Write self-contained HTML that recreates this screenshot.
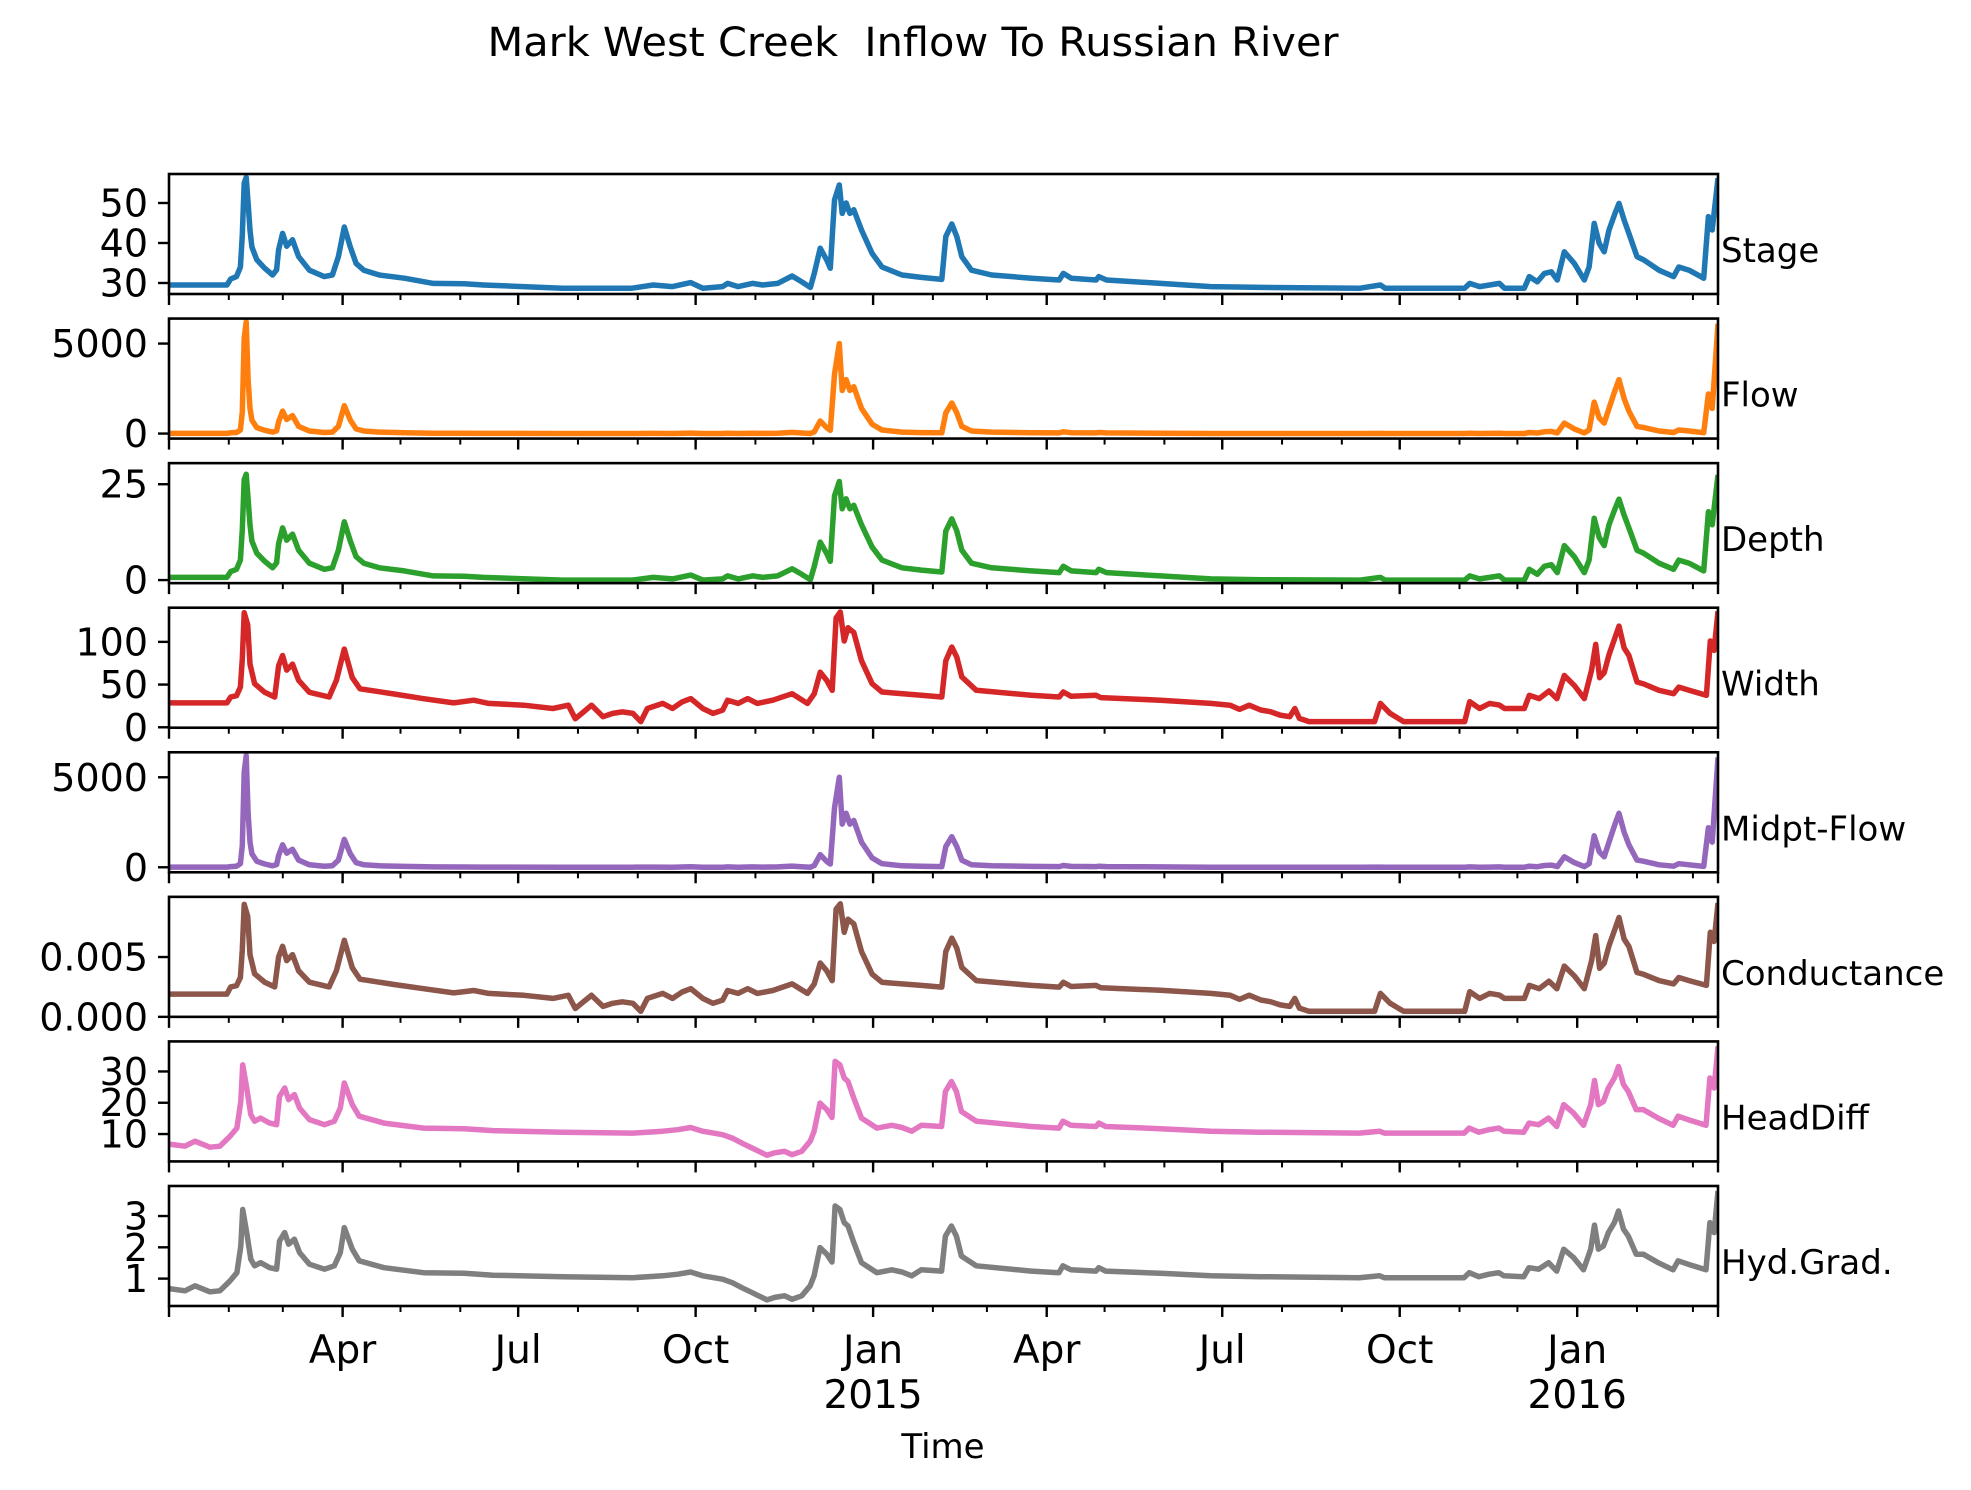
<!DOCTYPE html>
<html><head><meta charset="utf-8"><style>
html,body{margin:0;padding:0;background:#fff}
svg{display:block}
text{font-family:"DejaVu Sans","Liberation Sans",sans-serif;fill:#000}
</style></head><body>
<svg id="chart" width="1971" height="1490" viewBox="0 0 1971 1490" xmlns="http://www.w3.org/2000/svg">
<rect width="1971" height="1490" fill="#fff"/>
<text x="913" y="56" font-size="40" text-anchor="middle" textLength="851" lengthAdjust="spacingAndGlyphs">Mark West Creek &#160;Inflow To Russian River</text>
<text x="943" y="1458" font-size="34" text-anchor="middle">Time</text>
<g id="panels"></g>
</svg>
<script>
// time in days since 2014-01-01
const stageDays = [0,30,32,35,37,38,39,40,41,42,43,45.5,49.6,53.7,55.8,56.8,58.9,61,64,67.2,72.8,80.5,84.7,87.8,90.9,94,97,101,109,122,137,153,163,204,240,251,261,270.5,276.7,287,289.6,295,302.5,307.7,315.5,323,328,332.5,334.5,337.6,341,342.8,345,347.5,349,351,353,355,359,364.5,369.6,380,390,400.6,402.7,405.8,408.4,411,416,426.5,447,461.5,463.6,467.7,480.6,482,486,514,540,566,617.5,628,630.4,671.7,674.3,679.4,684.6,689.7,692.3,702.6,705.2,709.3,713,716.6,719.7,723.3,728.5,733.7,736.2,738.8,741.4,744,746.5,749.6,751.7,754.3,756.8,761,764.6,772.4,780,782.7,788,795.6,798,800,803];
const stageVals = [29.5,29.5,31,31.6,34,42,55,56.4,50,43.2,39,35.8,33.7,32,33.3,38.3,42.4,39.2,40.8,36.6,33.2,31.6,32,36.6,44,39,34.9,33.2,32,31.2,29.9,29.8,29.5,28.7,28.7,29.5,29.1,30.1,28.7,29.1,29.9,29.1,29.9,29.5,29.9,31.75,30.3,28.9,32.4,38.7,35.7,33.7,50.75,54.5,47.4,50,47.4,48.3,43.25,37.4,34,32,31.4,30.9,41.6,44.75,41.6,36.6,33.2,32,31.2,30.75,32.4,31.2,30.75,31.6,30.75,29.9,29.1,28.9,28.7,29.5,28.7,28.7,29.9,29.1,29.5,29.9,28.7,28.7,31.6,30.3,32.4,32.8,30.75,37.8,34.9,30.75,34,44.9,39.9,37.8,43.25,47.4,49.9,45.75,42.4,36.6,35.75,33.2,31.6,34,33.2,31.2,46.6,43.25,56.2];
const flowVals = [10,10,40,60,200,1200,5300,6200,3000,1400,750,330,180,80,150,650,1250,780,1000,400,140,60,80,400,1550,750,260,140,80,50,20,18,10,3,3,10,6,25,3,6,20,6,20,10,20,65,30,5,100,700,320,180,3300,5000,2400,3000,2400,2600,1400,520,200,80,55,40,1150,1700,1150,400,140,80,50,38,100,50,38,60,38,20,6,5,3,10,3,3,20,6,10,20,3,3,60,30,100,120,38,580,260,38,200,1750,870,580,1400,2400,3000,1950,1250,400,330,140,60,200,140,50,2200,1400,6100];
const midptVals = [10,10,40,60,200,1200,5300,6200,3000,1400,750,330,180,80,150,650,1250,780,1000,400,140,60,80,400,1550,750,260,140,80,50,20,18,10,3,3,10,6,25,3,6,20,6,20,10,20,65,30,5,100,700,320,180,3300,5000,2400,3000,2400,2600,1400,520,200,80,55,40,1150,1700,1150,400,140,80,50,38,100,50,38,60,38,20,6,5,3,10,3,3,20,6,10,20,3,3,60,30,100,120,38,580,260,38,200,1750,870,580,1400,2400,3000,1950,1250,400,330,140,60,200,140,50,2200,1400,6100];
const depthVals = [0.7,0.7,2.2,2.8,5.2,13.2,26.2,27.6,21.2,14.4,10.2,7,4.9,3.2,4.5,9.5,13.6,10.4,12,7.8,4.4,2.8,3.2,7.8,15.2,10.2,6.1,4.4,3.2,2.4,1.1,1,0.7,0,0,0.7,0.3,1.3,0,0.3,1.1,0.3,1.1,0.7,1.1,2.95,1.5,0.1,3.6,9.9,6.9,4.9,21.95,25.7,18.6,21.2,18.6,19.5,14.45,8.6,5.2,3.2,2.6,2.1,12.8,15.95,12.8,7.8,4.4,3.2,2.4,1.95,3.6,2.4,1.95,2.8,1.95,1.1,0.3,0.1,0,0.7,0,0,1.1,0.3,0.7,1.1,0,0,2.8,1.5,3.6,4,1.95,9,6.1,1.95,5.2,16.1,11.1,9,14.45,18.6,21.1,16.95,13.6,7.8,6.95,4.4,2.8,5.2,4.4,2.4,17.8,14.45,27.4];
const widthDays = [0,30,32,35,37,38,39,40.8,42,44.4,49.6,54.8,56.8,58.9,61,64,67.2,72.8,83,86.8,90.9,95,99,116.7,132,147.6,158,165.7,184,199,207,210.6,214.7,219,225,230,235,240.5,244.6,248,256,261,266,270.5,276.7,282,287,289.6,295,300,305,313,323,331,334.5,337.6,341,343.8,345.8,348,350,352,355,359,364.5,369.6,390,400.6,402.7,405.8,408.4,411,418.5,447,461.5,463.6,467.7,480.6,483,514,540,550,555,560,566,571,576,581,583.6,586,591,625,628,633,640,671.7,674.3,679.4,684.6,689.7,692.3,702.6,705.2,710.3,715.4,719.5,723.3,728.5,733.7,737.5,739.6,741.6,744,746.5,749.6,751.7,754.3,756.8,761,764.6,772.4,780,782.7,788,797,799,801,803];
const widthVals = [28.6,28.6,35.5,37,47,80,134,120,74,51,41,35.5,72,84,67,74,55,41,35.5,55,91.5,58,45,39,33.5,28.6,31.7,28,25.9,22,25.9,10,17.7,25.9,12.4,16.2,18,16.2,6.6,22,28,22,29.7,33.6,22,16.2,20,31.7,28,33.6,28,31.7,39.3,28,39.3,64.5,54.8,43.3,128,135,101,116.6,111,78,51,41.3,37.5,35.5,78,94,82,59,43.3,37.5,35.5,41.3,36.3,37.5,34.8,31.7,28,25.9,20.9,25.9,20.2,18.2,14.3,12.4,22,10.4,6.6,6.6,28,16.2,6.6,6.6,30,22,28,26,22,22,37.5,33.6,42.5,33.6,60.6,49,33.6,67,97,58,64,85,105,118.5,93,84,53,50.7,43.3,39.3,47,43.3,37.5,101,90,136];
// conductance in units of 1e-4
const condVals = [19,19,25,26,33,56,94,84,52,36,29,25,50,59,47,52,38.5,29,25,38.5,64,41,31.5,27,23.5,20,22,19.6,18,15.4,18,7,12.4,18,8.7,11.3,12.6,11.3,4.6,15.4,19.6,15.4,20.8,23.5,15.4,11.3,14,22,19.6,23.5,19.6,22,27.5,19.6,27.5,45,38.4,30.3,90,94.5,70.7,81.6,77.7,54.6,35.7,28.9,26.3,24.9,54.6,65.8,57.4,41.3,30.3,26.3,24.9,28.9,25.4,26.3,24.4,22.2,19.6,18.1,14.6,18.1,14.1,12.7,10,8.7,15.4,7.3,4.6,4.6,19.6,11.3,4.6,4.6,21,15.4,19.6,18.2,15.4,15.4,26.3,23.5,29.8,23.5,42.4,34.3,23.5,46.9,67.9,40.6,44.8,59.5,73.5,83,65.1,58.8,37.1,35.5,30.3,27.5,32.9,30.3,26.3,70.7,63,95.2];
const headDays = [0,8.3,13.5,21.2,26.4,31.5,35.2,37.2,38.2,40.3,42.4,44.4,47.5,52.2,55.8,57.3,60,62,65,67.7,72.8,80.6,85.7,88.8,90.9,95,98.6,111.5,132,153,168,204,240.5,256,263.7,270.4,276.6,287,292,297,302.4,305,310,314,319,323,328,332.4,334.4,337.5,341,343.7,345.3,347.8,350,352,355,359,367,374.7,380,385,390,400.5,402.5,405.6,408.2,410.8,418.5,447,461.4,463.4,467.6,480.5,482,485.6,514,540,565.6,617,627.5,630,671.4,674,679,684.3,689.4,692,702.3,705,710,715.2,719.4,723,728,733.3,737,739,741,743.6,746.2,749.3,751.4,754,756.5,760.6,764.3,772,779.7,782.3,787.5,796.8,798.8,801,803];
const headVals = [6.8,6.1,7.7,5.8,6.1,9.2,11.9,20.4,32.1,24.7,16.2,14.1,15.1,13.5,13,22,24.7,21,22.6,18.3,14.6,13,14.1,18.3,26.3,19.4,15.7,13.5,11.9,11.7,11.1,10.6,10.3,10.9,11.4,12.1,10.9,9.8,8.7,7.1,5.5,4.7,3.2,4,4.5,3.4,4.5,7.7,10.9,19.9,17.8,15.3,33.2,32.1,27.9,26.8,21.5,15.1,11.9,12.8,12.1,10.9,12.8,12.4,23.6,26.8,23.6,17.2,14.1,12.4,11.9,14.1,12.8,12.4,13.5,12.4,11.7,10.9,10.6,10.3,10.9,10.3,10.3,11.9,10.6,11.4,11.9,10.9,10.6,13.5,13,15.1,12.4,19.4,16.8,12.8,19.4,27.1,19.4,20.4,24.7,27.9,31.6,25.8,23.6,17.8,17.8,15.1,12.8,15.7,14.6,12.8,27.9,24.7,38];
const gradVals = [0.68,0.61,0.77,0.58,0.61,0.92,1.19,2.04,3.21,2.47,1.62,1.41,1.51,1.35,1.3,2.2,2.47,2.1,2.26,1.83,1.46,1.3,1.41,1.83,2.63,1.94,1.57,1.35,1.19,1.17,1.11,1.06,1.03,1.09,1.14,1.21,1.09,0.98,0.87,0.71,0.55,0.47,0.32,0.4,0.45,0.34,0.45,0.77,1.09,1.99,1.78,1.53,3.32,3.21,2.79,2.68,2.15,1.51,1.19,1.28,1.21,1.09,1.28,1.24,2.36,2.68,2.36,1.72,1.41,1.24,1.19,1.41,1.28,1.24,1.35,1.24,1.17,1.09,1.06,1.03,1.09,1.03,1.03,1.19,1.06,1.14,1.19,1.09,1.06,1.35,1.3,1.51,1.24,1.94,1.68,1.28,1.94,2.71,1.94,2.04,2.47,2.79,3.16,2.58,2.36,1.78,1.78,1.51,1.28,1.57,1.46,1.28,2.79,2.47,3.8];
const monthTicks = [0,31,59,90,120,151,181,212,243,273,304,334,365,396,424,455,485,516,546,577,608,638,669,699,730,761,790,803];
const majorTicks = [0,90,181,273,365,455,546,638,730,803];
const majorLabels = ["","Apr","Jul","Oct","Jan","Apr","Jul","Oct","Jan",""];
const yearLabels = ["","","","","2015","","","","2016",""];
const stageTicks=[30,40,50], flowTicks=[0,5000], depthTicks=[0,25], widthTicks=[0,50,100];
const condTicks=[0,50], headTicks=[10,20,30], gradTicks=[1,2,3];

const L=169,R=1718,T0=174,STEP=144.57,H=120,XMAX=803;
const xs = d => L + d/XMAX*(R-L);
const NS="http://www.w3.org/2000/svg";
const root=document.getElementById('panels');
function mk(tag,attrs,parent){const e=document.createElementNS(NS,tag);for(const k in attrs)e.setAttribute(k,attrs[k]);(parent||root).appendChild(e);return e;}
const panels=[
 {name:'stage',label:'Stage',color:'#1f77b4',days:stageDays,vals:stageVals,dom:[27.25,57.25],ticks:stageTicks,fmt:v=>String(v)},
 {name:'flow',label:'Flow',color:'#ff7f0e',days:stageDays,vals:flowVals,dom:[-278,6389],ticks:flowTicks,fmt:v=>String(v)},
 {name:'depth',label:'Depth',color:'#2ca02c',days:stageDays,vals:depthVals,dom:[-0.8,30.5],ticks:depthTicks,fmt:v=>String(v)},
 {name:'width',label:'Width',color:'#d62728',days:widthDays,vals:widthVals,dom:[-0.5,140],ticks:widthTicks,fmt:v=>String(v)},
 {name:'midpt-flow',label:'Midpt-Flow',color:'#9467bd',days:stageDays,vals:midptVals,dom:[-278,6389],ticks:flowTicks,fmt:v=>String(v)},
 {name:'conductance',label:'Conductance',color:'#8c564b',days:widthDays,vals:condVals,dom:[0,100.3],ticks:condTicks,fmt:v=>(v*1e-4).toFixed(3)},
 {name:'headdiff',label:'HeadDiff',color:'#e377c2',days:headDays,vals:headVals,dom:[1.25,39.6],ticks:headTicks,fmt:v=>String(v)},
 {name:'hyd-grad',label:'Hyd.Grad.',color:'#7f7f7f',days:headDays,vals:gradVals,dom:[0.125,3.96],ticks:gradTicks,fmt:v=>String(v)}
];
const defs=mk('defs',{});
panels.forEach((p,i)=>{
  const top=T0+i*STEP, bot=top+H;
  const ys=v=>bot-(v-p.dom[0])/(p.dom[1]-p.dom[0])*H;
  const g=mk('g',{});
  
  
  const cp=mk('clipPath',{id:'clip'+i},defs);
  mk('rect',{x:L,y:top,width:R-L,height:H},cp);
  let d='';
  const n=Math.min(p.days.length,p.vals.length);
  for(let k=0;k<n;k++){d+=(k?'L':'M')+xs(p.days[k]).toFixed(1)+','+ys(p.vals[k]).toFixed(1);}
  const line=mk('path',{d:d,fill:'none',stroke:p.color,'stroke-width':5.5,'stroke-linejoin':'round','clip-path':'url(#clip'+i+')'},g);
  
  
  const fr=mk('rect',{x:L,y:top,width:R-L,height:H,fill:'none',stroke:'#000','stroke-width':2.6},g);
  
  
  p.ticks.forEach(t=>{
    const y=ys(t);
    mk('line',{x1:L-11,x2:L,y1:y,y2:y,stroke:'#000','stroke-width':2.4},g);
    const tx=mk('text',{x:L-21,y:y+13.5,'font-size':38,'text-anchor':'end'},g);
    tx.textContent=p.fmt(t);
    
    
  });
  monthTicks.forEach(m=>{const x=xs(m);mk('line',{x1:x,x2:x,y1:bot,y2:bot+6,stroke:'#000','stroke-width':2},g);});
  majorTicks.forEach(m=>{const x=xs(m);mk('line',{x1:x,x2:x,y1:bot,y2:bot+11,stroke:'#000','stroke-width':2.4},g);});
  const lb=mk('text',{x:1721,y:top+H/2+28,'font-size':34},g);
  lb.textContent=p.label;
  
  
});
majorTicks.forEach((m,k)=>{
  const x=xs(m);
  if(majorLabels[k]){
    const t=mk('text',{x:x,y:1363,'font-size':39,'text-anchor':'middle'});
    t.textContent=majorLabels[k];
    
    
  }
  if(yearLabels[k]){
    const t=mk('text',{x:x,y:1408,'font-size':39,'text-anchor':'middle'});
    t.textContent=yearLabels[k];
    
    
  }
});
</script>
</body></html>
